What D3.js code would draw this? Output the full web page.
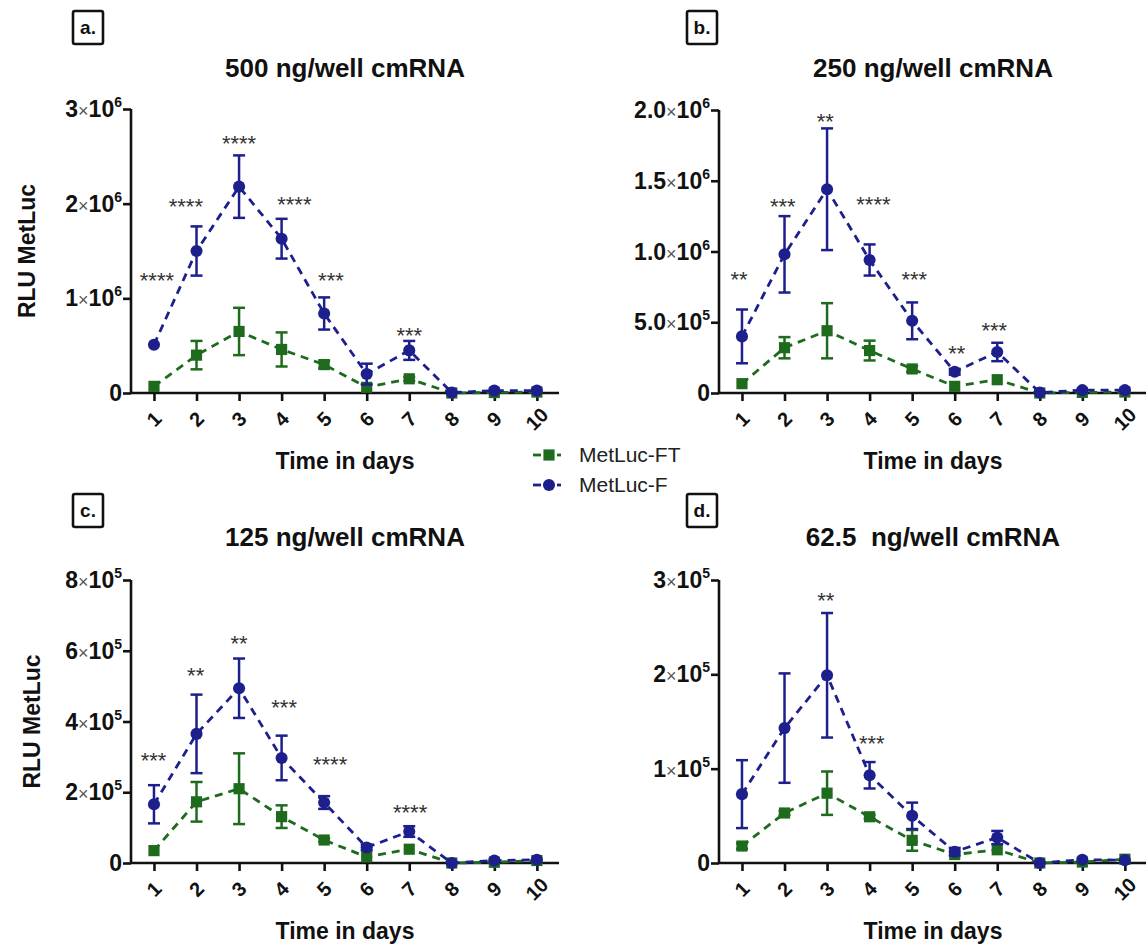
<!DOCTYPE html>
<html>
<head>
<meta charset="utf-8">
<script src="https://cdn.jsdelivr.net/npm/d3@7/dist/d3.min.js"></script>
<style>
  html, body { margin: 0; padding: 0; background: #ffffff; }
  svg { display: block; font-family: "Liberation Sans", Arial, sans-serif; }
  text { white-space: pre; }
</style>
</head>
<body>
<svg id="chart" width="1146" height="946"></svg>
<script>
// ---- Data: MetLuc luminescence over 10 days, four cmRNA doses ----
const days = [1, 2, 3, 4, 5, 6, 7, 8, 9, 10];
const seriesNames = ["MetLuc-FT", "MetLuc-F"];

// a. 500 ng/well
const fMeanA  = [0.51e6, 1.50e6, 2.18e6, 1.63e6, 0.84e6, 0.20e6, 0.45e6, 0.005e6, 0.025e6, 0.025e6];
const fErrA   = [0, 0.26e6, 0.33e6, 0.21e6, 0.17e6, 0.11e6, 0.10e6, 0, 0, 0];
const ftMeanA = [0.07e6, 0.40e6, 0.65e6, 0.46e6, 0.30e6, 0.06e6, 0.15e6, 0, 0.005e6, 0.01e6];
const ftErrA  = [0, 0.15e6, 0.25e6, 0.18e6, 0.04e6, 0, 0.02e6, 0, 0, 0];
const starDayA   = [1.07, 1.75, 3.0, 4.3, 5.16, 7.0];
const starLevelA = [1.25e6, 2.03e6, 2.69e6, 2.05e6, 1.25e6, 0.67e6];
const starTextA  = ["****", "****", "****", "****", "***", "***"];
const yTicksA      = [0, 1e6, 2e6, 3e6];
const yTickLabelsA = ["0", "1×10^6", "2×10^6", "3×10^6"];

// b. 250 ng/well
const fMeanB  = [0.40e6, 0.98e6, 1.44e6, 0.94e6, 0.51e6, 0.15e6, 0.29e6, 0.003e6, 0.02e6, 0.02e6];
const fErrB   = [0.19e6, 0.27e6, 0.43e6, 0.11e6, 0.13e6, 0.02e6, 0.065e6, 0, 0, 0];
const ftMeanB = [0.066e6, 0.32e6, 0.44e6, 0.30e6, 0.17e6, 0.047e6, 0.094e6, 0, 0.004e6, 0.007e6];
const ftErrB  = [0, 0.075e6, 0.195e6, 0.07e6, 0.02e6, 0, 0, 0, 0, 0];
const starDayB   = [0.93, 1.96, 2.96, 4.09, 5.05, 6.05, 6.93];
const starLevelB = [0.84e6, 1.36e6, 1.96e6, 1.37e6, 0.84e6, 0.32e6, 0.48e6];
const starTextB  = ["**", "***", "**", "****", "***", "**", "***"];
const yTicksB      = [0, 0.5e6, 1.0e6, 1.5e6, 2.0e6];
const yTickLabelsB = ["0", "5.0×10^5", "1.0×10^6", "1.5×10^6", "2.0×10^6"];

// c. 125 ng/well
const fMeanC  = [1.66e5, 3.65e5, 4.94e5, 2.97e5, 1.71e5, 0.44e5, 0.89e5, 0, 0.07e5, 0.09e5];
const fErrC   = [0.54e5, 1.11e5, 0.84e5, 0.63e5, 0.18e5, 0.08e5, 0.15e5, 0, 0, 0];
const ftMeanC = [0.35e5, 1.73e5, 2.10e5, 1.31e5, 0.65e5, 0.17e5, 0.39e5, 0, 0.02e5, 0.07e5];
const ftErrC  = [0, 0.56e5, 1.00e5, 0.32e5, 0.05e5, 0, 0, 0, 0, 0];
const starDayC   = [0.99, 1.98, 3.0, 4.06, 5.14, 7.02];
const starLevelC = [3.06e5, 5.45e5, 6.36e5, 4.55e5, 2.94e5, 1.58e5];
const starTextC  = ["***", "**", "**", "***", "****", "****"];
const yTicksC      = [0, 2e5, 4e5, 6e5, 8e5];
const yTickLabelsC = ["0", "2×10^5", "4×10^5", "6×10^5", "8×10^5"];

// d. 62.5 ng/well
const fMeanD  = [0.73e5, 1.43e5, 1.99e5, 0.93e5, 0.50e5, 0.12e5, 0.27e5, 0, 0.035e5, 0.03e5];
const fErrD   = [0.36e5, 0.58e5, 0.66e5, 0.14e5, 0.14e5, 0.04e5, 0.07e5, 0, 0, 0];
const ftMeanD = [0.18e5, 0.53e5, 0.74e5, 0.49e5, 0.24e5, 0.09e5, 0.14e5, 0, 0.01e5, 0.04e5];
const ftErrD  = [0.03e5, 0.02e5, 0.23e5, 0.02e5, 0.11e5, 0, 0, 0, 0, 0];
const starDayD   = [2.97, 4.05];
const starLevelD = [2.84e5, 1.33e5];
const starTextD  = ["**", "***"];
const yTicksD      = [0, 1e5, 2e5, 3e5];
const yTickLabelsD = ["0", "1×10^5", "2×10^5", "3×10^5"];

const panelLetters = ["a.", "b.", "c.", "d."];
const panelTitles = ["500 ng/well cmRNA", "250 ng/well cmRNA", "125 ng/well cmRNA", "62.5  ng/well cmRNA"];
const xTitle = "Time in days";
const yTitle = "RLU MetLuc";

// ---- Styling ----
const BLUE = "#1c1f8c";
const GREEN = "#1e6b1e";
const INK = "#111111";

const svg = d3.select("#chart");

// Layout of the four panels (plot frame in pixels)
const layout = [
  { left: 131, top: 109, bottom: 393, width: 428, showY: true },
  { left: 719, top: 110, bottom: 393, width: 428, showY: false },
  { left: 131, top: 580, bottom: 863, width: 428, showY: true },
  { left: 719, top: 580, bottom: 863, width: 428, showY: false }
];

const panelData = [
  { f: fMeanA, fe: fErrA, ft: ftMeanA, fte: ftErrA, sd: starDayA, sl: starLevelA, st: starTextA, yt: yTicksA, yl: yTickLabelsA },
  { f: fMeanB, fe: fErrB, ft: ftMeanB, fte: ftErrB, sd: starDayB, sl: starLevelB, st: starTextB, yt: yTicksB, yl: yTickLabelsB },
  { f: fMeanC, fe: fErrC, ft: ftMeanC, fte: ftErrC, sd: starDayC, sl: starLevelC, st: starTextC, yt: yTicksC, yl: yTickLabelsC },
  { f: fMeanD, fe: fErrD, ft: ftMeanD, fte: ftErrD, sd: starDayD, sl: starLevelD, st: starTextD, yt: yTicksD, yl: yTickLabelsD }
];

function writeSci(textSel, label) {
  // label like "2.0×10^6" -> mantissa, times sign, 10, superscript exponent
  if (label.indexOf("×") < 0) {
    textSel.append("tspan").attr("font-weight", "bold").attr("font-size", 23).text(label);
    return;
  }
  const [mant, rest] = label.split("×");
  const [base, exp] = rest.split("^");
  textSel.append("tspan").attr("font-weight", "bold").attr("font-size", 23).text(mant);
  textSel.append("tspan").attr("font-weight", "normal").attr("font-size", 18).attr("fill", "#555").text("×");
  textSel.append("tspan").attr("font-weight", "bold").attr("font-size", 23).text(base);
  textSel.append("tspan").attr("font-weight", "bold").attr("font-size", 14).attr("dy", -10).text(exp);
}

layout.forEach((L, i) => {
  const D = panelData[i];
  const g = svg.append("g");
  const right = L.left + L.width;

  // x: day positions; the frame extends a little beyond day 1 and day 10
  const x = d3.scaleLinear().domain([0.46, 10.52]).range([L.left, right]);
  const y = d3.scaleLinear().domain([0, D.yt[D.yt.length - 1]]).range([L.bottom, L.top]);

  // panel letter box
  const bx = i % 2 === 0 ? 73 : 687;
  const by = i < 2 ? 11 : 494;
  g.append("rect").attr("x", bx).attr("y", by).attr("width", 30).attr("height", 33)
    .attr("rx", 2).attr("fill", "none").attr("stroke", INK).attr("stroke-width", 2.6);
  g.append("text").attr("x", bx + 15).attr("y", by + 23).attr("text-anchor", "middle")
    .attr("font-size", 19).attr("font-weight", "bold").attr("fill", INK).text(panelLetters[i]);

  // title
  g.append("text").attr("x", i % 2 === 0 ? 345 : 933).attr("y", i < 2 ? 77 : 546)
    .attr("text-anchor", "middle").attr("font-size", 26).attr("font-weight", "bold")
    .attr("fill", INK).text(panelTitles[i]);

  // y axis
  const yAxis = g.append("g").attr("transform", `translate(${L.left},0)`)
    .call(d3.axisLeft(y).tickValues(D.yt).tickSize(8).tickFormat(""));
  yAxis.select(".domain").attr("stroke", INK).attr("stroke-width", 2.6)
    .attr("d", `M0,${L.bottom}V${L.top}`);
  yAxis.selectAll(".tick line").attr("stroke", INK).attr("stroke-width", 2.6);
  D.yt.forEach((v, k) => {
    const t = g.append("text").attr("x", L.left - 9).attr("y", y(v) + 8)
      .attr("text-anchor", "end").attr("fill", INK);
    writeSci(t, D.yl[k]);
  });

  // x axis
  const xAxis = g.append("g").attr("transform", `translate(0,${L.bottom})`)
    .call(d3.axisBottom(x).tickValues(days).tickSize(8).tickFormat(""));
  xAxis.select(".domain").attr("stroke", INK).attr("stroke-width", 2.6)
    .attr("d", `M${L.left},0H${right}`);
  xAxis.selectAll(".tick line").attr("stroke", INK).attr("stroke-width", 2.6);
  days.forEach(dv => {
    g.append("text")
      .attr("transform", `translate(${x(dv)},${L.bottom + 26}) rotate(-45)`)
      .attr("text-anchor", "middle").attr("dominant-baseline", "central")
      .attr("font-size", 20).attr("font-weight", "bold").attr("fill", INK).text(dv);
  });

  // axis titles
  g.append("text").attr("x", i % 2 === 0 ? 345 : 933).attr("y", L.bottom + 76)
    .attr("text-anchor", "middle").attr("font-size", 23).attr("font-weight", "bold")
    .attr("fill", INK).text(xTitle);
  if (L.showY) {
    g.append("text")
      .attr("transform", `translate(${i === 0 ? 35 : 40},${(L.top + L.bottom) / 2}) rotate(-90)`)
      .attr("text-anchor", "middle").attr("font-size", 23).attr("font-weight", "bold")
      .attr("fill", INK).text(yTitle);
  }

  // series: MetLuc-FT (green squares) first, MetLuc-F (blue circles) on top
  const series = [
    { mean: D.ft, err: D.fte, color: GREEN, shape: "square" },
    { mean: D.f, err: D.fe, color: BLUE, shape: "circle" }
  ];
  series.forEach(s => {
    const pts = days.map((dv, k) => ({ d: dv, v: s.mean[k], e: s.err[k] }));
    const line = d3.line().x(p => x(p.d)).y(p => y(p.v));
    g.append("path").datum(pts).attr("d", line).attr("fill", "none")
      .attr("stroke", s.color).attr("stroke-width", 2.8).attr("stroke-dasharray", "8,6");

    const eb = g.append("g");
    pts.filter(p => p.e > 0).forEach(p => {
      const cx = x(p.d), y1 = y(p.v + p.e), y0 = y(Math.max(0, p.v - p.e));
      eb.append("line").attr("x1", cx).attr("x2", cx).attr("y1", y1).attr("y2", y0)
        .attr("stroke", s.color).attr("stroke-width", 2.5);
      [y1, y0].forEach(yy => eb.append("line").attr("x1", cx - 6).attr("x2", cx + 6)
        .attr("y1", yy).attr("y2", yy).attr("stroke", s.color).attr("stroke-width", 2.5));
    });

    const sym = d3.symbol().type(s.shape === "square" ? d3.symbolSquare : d3.symbolCircle)
      .size(s.shape === "square" ? 125 : 115);
    g.append("g").selectAll("path").data(pts).join("path")
      .attr("transform", p => `translate(${x(p.d)},${y(p.v)})`)
      .attr("d", sym).attr("fill", s.color);
  });

  // significance asterisks
  D.sd.forEach((sd, k) => {
    g.append("text").attr("x", x(sd)).attr("y", y(D.sl[k]) + 13)
      .attr("text-anchor", "middle").attr("font-size", 22).attr("fill", "#333")
      .text(D.st[k]);
  });
});

// legend between the panels
const legend = svg.append("g");
const legendColors = [GREEN, BLUE];
const legendShapes = [d3.symbolSquare, d3.symbolCircle];
seriesNames.forEach((name, k) => {
  const ly = 455 + k * 30;
  legend.append("line").attr("x1", 533).attr("x2", 541).attr("y1", ly).attr("y2", ly)
    .attr("stroke", legendColors[k]).attr("stroke-width", 2.8);
  legend.append("line").attr("x1", 557).attr("x2", 561).attr("y1", ly).attr("y2", ly)
    .attr("stroke", legendColors[k]).attr("stroke-width", 2.8);
  legend.append("path").attr("transform", `translate(549,${ly})`)
    .attr("d", d3.symbol().type(legendShapes[k]).size(k === 0 ? 125 : 115)())
    .attr("fill", legendColors[k]);
  legend.append("text").attr("x", 579).attr("y", ly + 7).attr("font-size", 21)
    .attr("fill", "#222").text(name);
});
</script>
</body>
</html>
